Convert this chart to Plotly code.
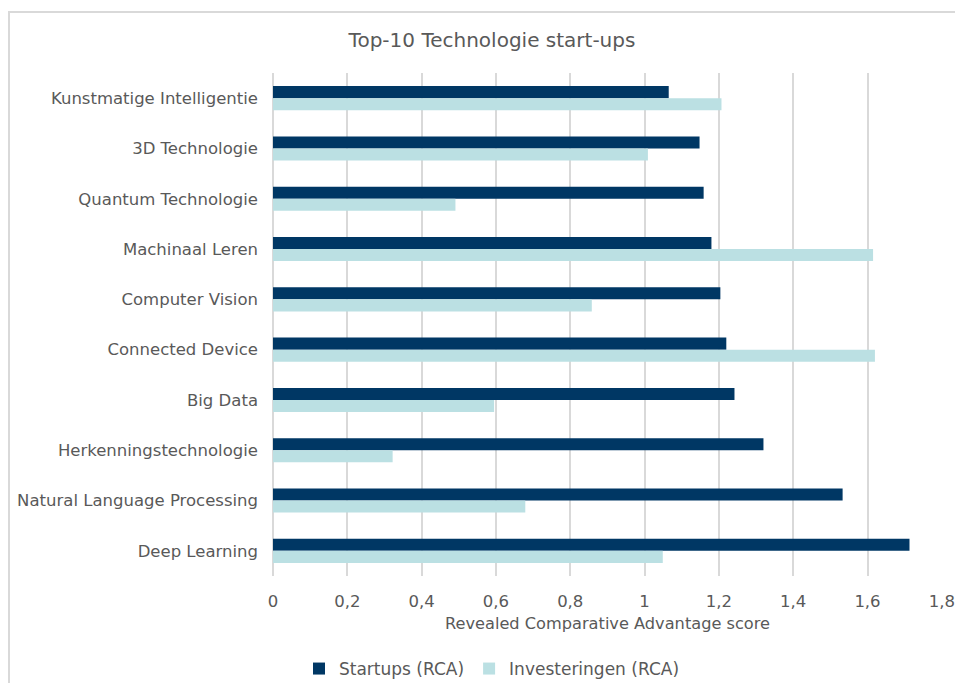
import plotly.graph_objects as go

categories = ["Kunstmatige Intelligentie", "3D Technologie", "Quantum Technologie",
              "Machinaal Leren", "Computer Vision", "Connected Device", "Big Data",
              "Herkenningstechnologie", "Natural Language Processing", "Deep Learning"]
startups = [1.065, 1.148, 1.159, 1.180, 1.204, 1.220, 1.242, 1.320, 1.533, 1.713]
investeringen = [1.207, 1.009, 0.491, 1.615, 0.858, 1.620, 0.595, 0.322, 0.679, 1.049]

TXT = "#595959"
FONT = "DejaVu Sans, Verdana, sans-serif"

fig = go.Figure()
fig.add_trace(go.Bar(y=categories, x=startups, orientation="h", name="Startups (RCA)",
                     marker=dict(color="#003764", line=dict(width=0))))
fig.add_trace(go.Bar(y=categories, x=investeringen, orientation="h", name="Investeringen (RCA)",
                     marker=dict(color="#BBE0E3", line=dict(width=0))))

# page is offset by the 8px body margin, so figure coords = window coords - 8;
# sized so the page does not overflow the 963x691 window
W, H = 947, 675
L, R, T, B = 265, 13, 65, 107
pw, ph = W - L - R, H - T - B

def px_x(p):
    return (p - L) / pw

def px_y(p):
    return (H - B - p) / ph

fig.update_layout(
    width=W, height=H,
    margin=dict(l=L, r=R, t=T, b=B, autoexpand=False),
    paper_bgcolor="white", plot_bgcolor="white",
    barmode="group", bargap=0.52, bargroupgap=0,
    separators=",.",
    font=dict(family=FONT, color=TXT, size=16.5),
    title=dict(text="Top-10 Technologie start-ups", x=484 / W, xref="container", xanchor="center",
               y=1 - 32 / H, yref="container", yanchor="middle",
               font=dict(family=FONT, size=20, color=TXT)),
    xaxis=dict(range=[0, 1.8005], tick0=0, dtick=0.2, showgrid=True, gridcolor="#D9D9D9", gridwidth=2,
               zeroline=True, zerolinecolor="#D9D9D9", zerolinewidth=2, showline=False,
               ticks="", ticklabelstandoff=13, ticklabeloverflow="allow",
               tickfont=dict(family=FONT, size=16.5, color=TXT),
               title=dict(text="Revealed Comparative Advantage score", standoff=8,
                          font=dict(family=FONT, size=16.2, color=TXT))),
    yaxis=dict(autorange="reversed", showgrid=False, showline=False, ticks="",
               ticklabelstandoff=14, tickfont=dict(family=FONT, size=16.5, color=TXT)),
    legend=dict(orientation="h", x=px_x(291), xanchor="left", y=px_y(661), yanchor="middle",
                font=dict(family=FONT, size=17, color=TXT), itemwidth=30, traceorder="normal"),
    shapes=[dict(type="rect", xref="paper", yref="paper",
                 x0=px_x(1), x1=px_x(985), y0=px_y(4), y1=px_y(700),
                 line=dict(color="#D9D9D9", width=2), fillcolor="rgba(0,0,0,0)", layer="below")],
)

fig.write_html("out.html")
